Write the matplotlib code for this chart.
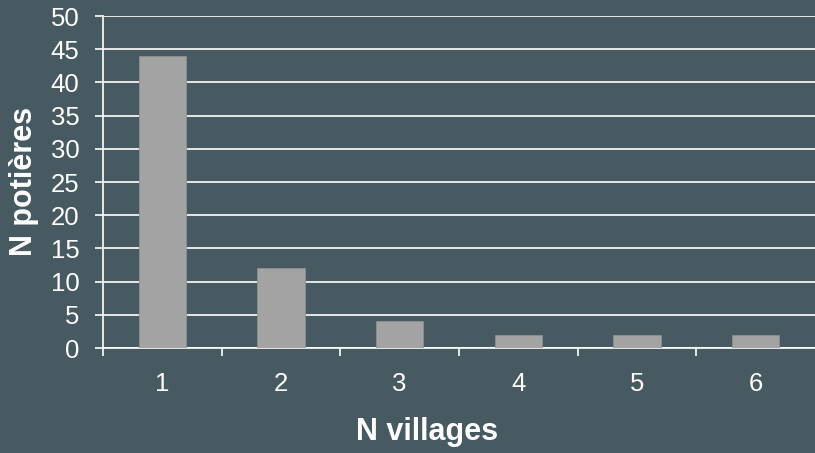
import matplotlib
matplotlib.use("Agg")
import matplotlib.pyplot as plt
import numpy as np

plt.rcParams['font.family'] = ['Liberation Sans', 'DejaVu Sans']

categories = ["1", "2", "3", "4", "5", "6"]
values = [44, 12, 4, 2, 2, 2]
yticks = [0, 5, 10, 15, 20, 25, 30, 35, 40, 45, 50]

bg = '#475961'
fig = plt.figure(figsize=(8.15, 4.53), dpi=100, facecolor=bg)
ax = fig.add_axes([103/815, 105/453, 1 - 103/815, (348-16)/453])
ax.set_facecolor(bg)

x = np.arange(1, len(categories) + 1)
ax.bar(x, values, width=0.4, color='#a3a3a3', edgecolor='#8e8e8e', linewidth=0.6, zorder=3)

ax.set_xlim(0.5, len(categories) + 0.5)
ax.set_ylim(0, 50)
ax.set_yticks(yticks)
ax.set_yticklabels([str(t) for t in yticks])
ax.yaxis.grid(True, color='white', linewidth=1.2, zorder=0)
ax.set_axisbelow(True)

# category boundary ticks (major, no labels) and labels at centres (minor)
ax.set_xticks(np.arange(0.5, len(categories), 1))
ax.set_xticklabels([])
ax.set_xticks(x, minor=True)
ax.set_xticklabels(categories, minor=True)
ax.tick_params(axis='x', which='major', length=6, width=1.2, color='white', direction='out')
ax.tick_params(axis='x', which='minor', length=0, pad=17, labelsize=18.5, labelcolor='white')
ax.tick_params(axis='y', which='major', length=6, width=1.2, color='white', direction='out',
               pad=11, labelsize=18.5, labelcolor='white')

for s in ['top', 'right']:
    ax.spines[s].set_visible(False)
for s in ['left', 'bottom']:
    ax.spines[s].set_color('white')
    ax.spines[s].set_linewidth(1.2)

fig.text(427/815, 1 - 432/453, 'N villages', ha='center', va='center', fontsize=22,
         fontweight='bold', color='white')
fig.text(24/815, 1 - 181/453, 'N potières', ha='center', va='center', fontsize=22,
         fontweight='bold', color='white', rotation=90)

fig.savefig('out.png', dpi=100, facecolor=bg)
